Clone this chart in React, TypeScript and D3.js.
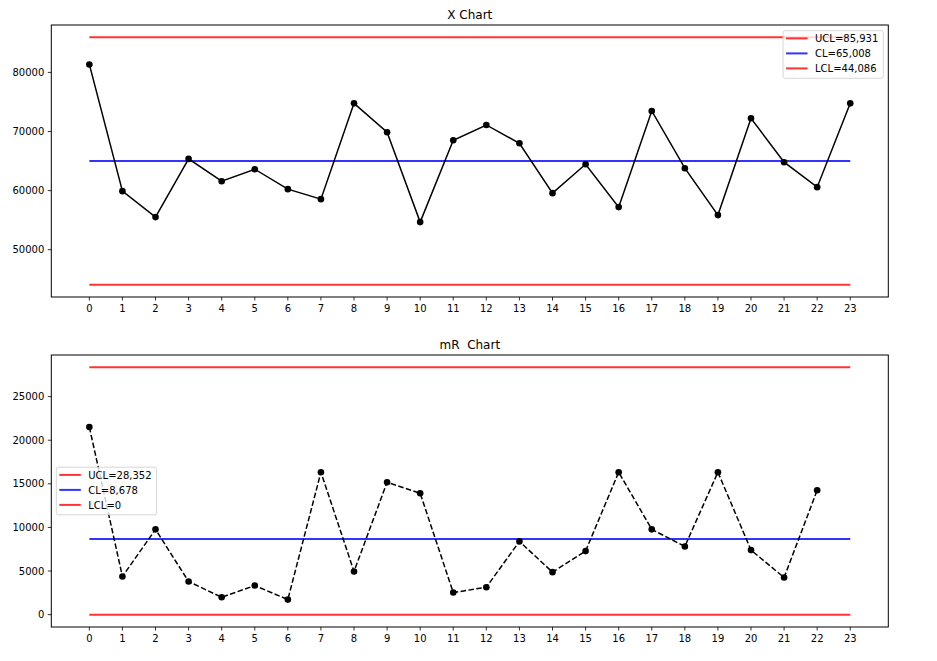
import React, { useEffect, useRef } from "react";
import * as d3 from "d3";

const xValues: number[] = [
  81351, 59904, 55514, 65364, 61593, 63620, 60242, 58553, 74765, 69868, 54670, 68517,
  71106, 68010, 59567, 64464, 57203, 73470, 63789, 55851, 72232, 64802, 60580, 74765,
];
const mrValues: number[] = [
  21510, 4371, 9777, 3796, 1994, 3336, 1725, 16333, 4946, 15183, 13917, 2530,
  3144, 8396, 4869, 7285, 16333, 9777, 7821, 16333, 7400, 4256, 14262,
];
const xLimits = { ucl: 85931, cl: 65008, lcl: 44086 };
const mrLimits = { ucl: 28352, cl: 8678, lcl: 0 };
const xTicks: number[] = d3.range(0, 24);
const xChartYTicks: number[] = [50000, 60000, 70000, 80000];
const mrChartYTicks: number[] = [0, 5000, 10000, 15000, 20000, 25000];
const xLegend: string[] = ["UCL=85,931", "CL=65,008", "LCL=44,086"];
const mrLegend: string[] = ["UCL=28,352", "CL=8,678", "LCL=0"];
const titles: string[] = ["X Chart", "mR  Chart"];

const W = 937;
const H = 661;
const FONT = "DejaVu Sans, sans-serif";
const RED = "rgba(255,0,0,0.8)";
const BLUE = "rgba(0,0,255,0.8)";

export default function App() {
  const ref = useRef<SVGSVGElement>(null);
  useEffect(() => {
    const svg = d3.select(ref.current);
    svg.selectAll("*").remove();
    const left = 51.3, right = 888.3;
    const panels = [
      { top: 25, bottom: 297, data: xValues, lim: xLimits, yt: xChartYTicks, legend: xLegend, title: titles[0], dashed: false, loc: "ur" },
      { top: 355, bottom: 627, data: mrValues, lim: mrLimits, yt: mrChartYTicks, legend: mrLegend, title: titles[1], dashed: true, loc: "cl" },
    ];
    panels.forEach((p) => {
      const x = d3.scaleLinear().domain([-1.15, 24.15]).range([left, right]);
      const rng = p.lim.ucl - p.lim.lcl;
      const y = d3.scaleLinear().domain([p.lim.lcl - 0.05 * rng, p.lim.ucl + 0.05 * rng]).range([p.bottom, p.top]);
      const g = svg.append("g");
      // control lines
      const lims: [number, string][] = [[p.lim.ucl, RED], [p.lim.cl, BLUE], [p.lim.lcl, RED]];
      lims.forEach(([v, c]) => {
        g.append("line").attr("x1", x(0)).attr("x2", x(23)).attr("y1", y(v)).attr("y2", y(v))
          .attr("stroke", c).attr("stroke-width", 2);
      });
      // data line
      const line = d3.line<number>().x((_, i) => x(i)).y((d) => y(d));
      g.append("path").attr("d", line(p.data)).attr("fill", "none").attr("stroke", "#000")
        .attr("stroke-width", 1.5).attr("stroke-dasharray", p.dashed ? "5.55,2.4" : null);
      g.selectAll("circle.pt").data(p.data).enter().append("circle")
        .attr("cx", (_, i) => x(i)).attr("cy", (d) => y(d)).attr("r", 3.3).attr("fill", "#000");
      // frame
      g.append("rect").attr("x", left).attr("y", p.top).attr("width", right - left).attr("height", p.bottom - p.top)
        .attr("fill", "none").attr("stroke", "#000").attr("stroke-width", 1);
      // x ticks
      xTicks.forEach((t) => {
        g.append("line").attr("x1", x(t)).attr("x2", x(t)).attr("y1", p.bottom).attr("y2", p.bottom + 3.5)
          .attr("stroke", "#000").attr("stroke-width", 0.8);
        g.append("text").attr("x", x(t)).attr("y", p.bottom + 14.5).attr("text-anchor", "middle")
          .attr("font-family", FONT).attr("font-size", 10).attr("fill", "#000").text(String(t));
      });
      p.yt.forEach((t) => {
        g.append("line").attr("x1", left - 3.5).attr("x2", left).attr("y1", y(t)).attr("y2", y(t))
          .attr("stroke", "#000").attr("stroke-width", 0.8);
        g.append("text").attr("x", left - 7).attr("y", y(t) + 3.6).attr("text-anchor", "end")
          .attr("font-family", FONT).attr("font-size", 10).attr("fill", "#000").text(String(t));
      });
      // title
      g.append("text").attr("x", (left + right) / 2).attr("y", p.top - 6).attr("text-anchor", "middle")
        .attr("font-family", FONT).attr("font-size", 12).attr("fill", "#000")
        .style("white-space", "pre").attr("xml:space", "preserve").text(p.title);
      // legend
      const lg = g.append("g");
      const box = lg.append("rect").attr("rx", 2).attr("ry", 2).attr("fill", "rgba(255,255,255,0.8)")
        .attr("stroke", "rgba(204,204,204,0.8)").attr("stroke-width", 1);
      let maxW = 0;
      const texts = p.legend.map((s, i) => {
        const t = lg.append("text").attr("font-family", FONT).attr("font-size", 10).attr("fill", "#000").text(s);
        const node = t.node() as SVGTextElement;
        maxW = Math.max(maxW, node.getComputedTextLength());
        return t;
      });
      const bw = 32 + maxW + 5;
      const bh = 47.6;
      const bx = p.loc === "ur" ? right - 5 - bw : left + 5;
      const by = p.loc === "ur" ? p.top + 5.7 : (p.top + p.bottom) / 2 - bh / 2;
      box.attr("x", bx).attr("y", by).attr("width", bw).attr("height", bh);
      const colors = [RED, BLUE, RED];
      texts.forEach((t, i) => {
        const cy = by + 7.7 + i * 15;
        lg.append("line").attr("x1", bx + 3).attr("x2", bx + 24.5).attr("y1", cy).attr("y2", cy)
          .attr("stroke", colors[i]).attr("stroke-width", 2);
        t.attr("x", bx + 32).attr("y", cy + 3.6);
      });
    });
  }, []);
  return (
    <div style={{ position: "absolute", left: 0, top: 0 }}>
      <svg ref={ref} width={W} height={H} style={{ display: "block", background: "#fff" }} />
    </div>
  );
}
